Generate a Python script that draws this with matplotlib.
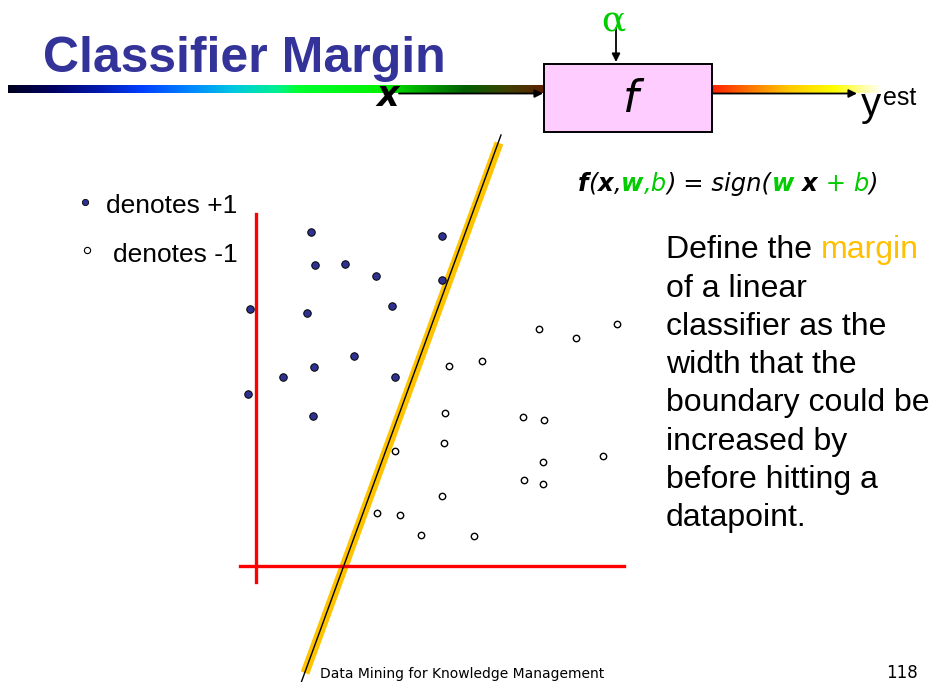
import matplotlib
matplotlib.use("Agg")
import numpy as np
import matplotlib.pyplot as plt
from matplotlib.colors import LinearSegmentedColormap
from matplotlib.patches import Rectangle

# The slide is laid out in pixel units (y grows downward).
W, H = 930, 682

# +1 class (filled dots) and -1 class (open dots)
pos_x = [310.7, 442.3, 315.0, 345.0, 376.3, 442.3, 250.0, 307.0, 392.3,
         354.0, 314.0, 282.7, 394.7, 248.0, 313.3]
pos_y = [231.7, 236.3, 265.0, 264.3, 276.3, 280.0, 309.0, 313.0, 306.0,
         356.3, 366.7, 377.0, 376.7, 394.3, 415.7]
neg_x = [538.7, 576.3, 617.3, 449.3, 481.7, 445.3, 523.0, 543.7, 443.7,
         394.7, 603.0, 542.7, 524.0, 543.3, 442.3, 377.3, 400.0, 420.7, 474.3]
neg_y = [328.7, 338.3, 323.7, 366.3, 361.0, 413.3, 416.7, 420.3, 443.3,
         451.0, 456.3, 461.7, 480.0, 484.3, 496.3, 512.7, 515.3, 535.3, 536.3]

# decision boundary and its margin band
boundary_x = [501, 301]
boundary_y = [135, 683]
margin_x = [499, 305]
margin_y = [143, 673]

# red feature axes
axis_v_x, axis_v_y = [256, 256], [214, 582]
axis_h_x, axis_h_y = [240, 624], [566, 566]

description = ["Define the ", "of a linear", "classifier as the",
               "width that the", "boundary could be", "increased by",
               "before hitting a", "datapoint."]

NAVY = "#333399"
GREEN = "#00cc00"
MARGIN_COL = "#ffc000"

fig = plt.figure(figsize=(W / 100, H / 100), dpi=100)
ax = fig.add_axes([0, 0, 1, 1])
ax.set_xlim(0, W)
ax.set_ylim(H, 0)
ax.axis("off")


def gradient(x0, x1, y0, y1, stops):
    cmap = LinearSegmentedColormap.from_list("g", stops)
    ax.imshow(np.linspace(0, 1, 256)[None, :], cmap=cmap, aspect="auto",
              extent=[x0, x1, y1, y0], zorder=1, interpolation="bilinear")


def runs(x, y, parts, **common):
    """Draw text pieces one after another on a common baseline."""
    r = fig.canvas.get_renderer()
    inv = ax.transData.inverted()
    for txt, kw in parts:
        props = dict(common, **kw)
        ax.text(x, y, txt, va="baseline", ha="left", **props)
        # measure advance including spaces
        a = ax.text(0, 0, "|" + txt + "|", **props)
        b = ax.text(0, 0, "||", **props)
        wa = a.get_window_extent(r).width
        wb = b.get_window_extent(r).width
        a.remove()
        b.remove()
        x0 = inv.transform((0, 0))[0]
        x += inv.transform((wa - wb, 0))[0] - x0


# colour bar of the "pipeline"
gradient(8, 545, 86, 93.5, [(0.0, "#000020"), (0.08, "#000060"),
                            (0.17, "#0018b0"), (0.25, "#0040ff"),
                            (0.34, "#0088ff"), (0.42, "#00c8e0"),
                            (0.50, "#00f090"), (0.54, "#00ff30"),
                            (0.70, "#00f000"), (0.76, "#00b000"),
                            (0.85, "#006000"), (0.93, "#404000"),
                            (1.0, "#602000")])
gradient(712, 882, 86, 93.5, [(0.0, "#ff2000"), (0.25, "#ff8000"),
                              (0.45, "#ffc800"), (0.72, "#ffff00"),
                              (0.9, "#ffffb0"), (1.0, "#ffffff")])

ax.annotate("", xy=(543, 93.5), xytext=(399, 93.5),
            arrowprops=dict(arrowstyle="-|>", color="black", lw=1.3,
                            mutation_scale=12, shrinkA=0, shrinkB=0), zorder=3)
ax.annotate("", xy=(857, 93.5), xytext=(712, 93.5),
            arrowprops=dict(arrowstyle="-|>", color="black", lw=1.3,
                            mutation_scale=12, shrinkA=0, shrinkB=0), zorder=3)
ax.annotate("", xy=(616, 62), xytext=(616, 28),
            arrowprops=dict(arrowstyle="-|>", color="black", lw=1.3,
                            mutation_scale=12, shrinkA=0, shrinkB=0), zorder=3)

ax.add_patch(Rectangle((543.5, 63.5), 168, 68, facecolor="#ffccff",
                       edgecolor="black", lw=1.4, zorder=4))
ax.text(631, 99, "f", fontsize=32, style="italic", family="DejaVu Sans",
        ha="center", va="center", zorder=5)
ax.text(613, 21, "α", fontsize=26, color=GREEN, family="DejaVu Serif",
        ha="center", va="center", zorder=5)
ax.text(388, 96, "x", fontsize=25, weight="bold", style="italic",
        family="DejaVu Sans", ha="center", va="center", zorder=5)
ax.text(861, 116, "y", fontsize=29, family="Liberation Sans",
        va="baseline", zorder=5)
ax.text(883, 105, "est", fontsize=18, family="Liberation Sans",
        va="baseline", zorder=5)

ax.text(43, 72, "Classifier Margin", fontsize=36, weight="bold",
        color=NAVY, family="Liberation Sans", va="baseline", zorder=5)

# formula
bi = dict(weight="bold")
runs(578, 191, [("f", bi), ("(", {}), ("x", bi), (",", {}),
                ("w", dict(weight="bold", color=GREEN)),
                (",b", dict(color=GREEN)), (") = sign(", {}),
                ("w", dict(weight="bold", color=GREEN)), (" ", {}),
                ("x", bi), (" + b", dict(color=GREEN)), (")", {})],
     fontsize=17.5, style="italic", family="DejaVu Sans", color="black")

# legend
ax.plot([85], [201.7], "o", ms=4.5, mfc="#2e3192", mec="black", mew=0.6)
ax.plot([86.7], [250], "o", ms=4.5, mfc="white", mec="black", mew=0.8)
ax.text(106, 213, "denotes +1", fontsize=19, family="Liberation Sans",
        va="baseline")
ax.text(113, 261.5, "denotes -1", fontsize=19, family="Liberation Sans",
        va="baseline")

# margin band and boundary
ax.plot(margin_x, margin_y, color="#ffc400", lw=6.5, solid_capstyle="butt",
        zorder=2)
ax.plot(boundary_x, boundary_y, color="black", lw=1.0, zorder=3)

# feature axes
ax.plot(axis_v_x, axis_v_y, color="#ff0000", lw=2.4, zorder=2)
ax.plot(axis_h_x, axis_h_y, color="#ff0000", lw=2.4, zorder=2)

ax.plot(pos_x, pos_y, "o", ms=5.4, mfc="#2e3192", mec="black", mew=0.7,
        zorder=6)
ax.plot(neg_x, neg_y, "o", ms=4.6, mfc="white", mec="black", mew=1.0,
        zorder=6)

# right-hand description
line_y = 258.3
for i, line in enumerate(description):
    yy = line_y + i * 38.3
    if i == 0:
        runs(666, yy, [(line, {}), ("margin", dict(color=MARGIN_COL))],
             fontsize=23, family="Liberation Sans", color="black")
    else:
        ax.text(666, yy, line, fontsize=23, family="Liberation Sans",
                va="baseline")

# footer
ax.text(320, 678, "Data Mining for Knowledge Management", fontsize=10,
        family="DejaVu Sans", va="baseline")
ax.text(918, 678, "118", fontsize=12, family="DejaVu Sans", va="baseline",
        ha="right")

fig.savefig("out.png", dpi=100, facecolor="white")
